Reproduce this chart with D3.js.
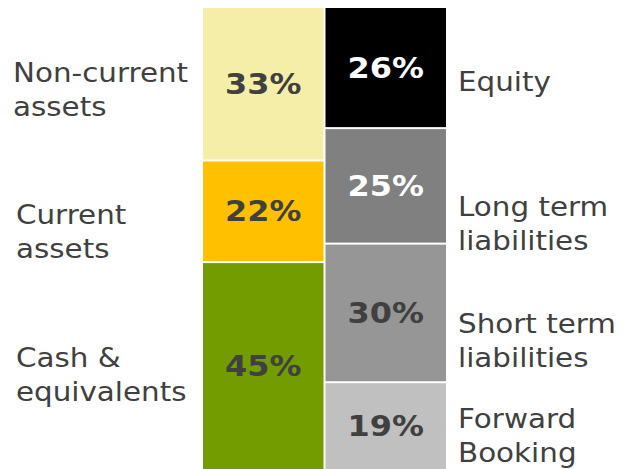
<!DOCTYPE html>
<html>
<head>
<meta charset="utf-8">
<script src="https://cdn.jsdelivr.net/npm/d3@7"></script>
<style>
  html, body { margin: 0; padding: 0; background: #fff; }
  svg { display: block; }
</style>
</head>
<body>
<svg id="chart" width="625" height="469"></svg>
<script>
// Balance sheet structure: assets vs. liabilities & equity (shares in %)
const columns = ["Assets", "Liabilities"];

const assetCategories = ["Non-current assets", "Current assets", "Cash & equivalents"];
const assetValues = [33, 22, 45];

const liabilityCategories = ["Equity", "Long term liabilities", "Short term liabilities", "Forward Booking"];
const liabilityValues = [26, 25, 30, 19];

// Category captions, split over two lines
const assetCaptions = [["Non-current", "assets"], ["Current", "assets"], ["Cash &", "equivalents"]];
const liabilityCaptions = [["Equity"], ["Long term", "liabilities"], ["Short term", "liabilities"], ["Forward", "Booking"]];

// Styling
const assetColors = ["#F5EEA8", "#FFC000", "#739C00"];
const liabilityColors = ["#000000", "#808080", "#969696", "#C0C0C0"];
const assetLabelColors = ["#404040", "#404040", "#404040"];
const liabilityLabelColors = ["#FFFFFF", "#FFFFFF", "#404040", "#404040"];

// Caption baselines (first line) and left edges
const assetCaptionY = [82, 224, 367];
const assetCaptionX = [13, 16, 16];
const liabilityCaptionY = [91, 216, 333, 428];
const liabilityCaptionX = [458, 458, 458, 458];
const lineGap = 34;
const captionStretch = 1.13; // horizontal widening of caption lettering
const valueStretch = 1.1;

const svg = d3.select("#chart");

const x = d3.scaleBand()
  .domain(columns)
  .range([203, 446])
  .paddingInner(0.0163);

const y = d3.scaleLinear()
  .domain([0, 100])
  .range([8, 470]);

function stack(values, categories, colors, labelColors) {
  let acc = 0;
  return values.map((v, i) => {
    const d = { category: categories[i], value: v, y0: acc, y1: acc + v,
                color: colors[i], labelColor: labelColors[i], index: i, last: i === values.length - 1 };
    acc += v;
    return d;
  });
}

const assets = stack(assetValues, assetCategories, assetColors, assetLabelColors);
const liabilities = stack(liabilityValues, liabilityCategories, liabilityColors, liabilityLabelColors);

function drawColumn(data, col) {
  const g = svg.append("g");
  const gap = 1;
  g.selectAll("rect")
    .data(data)
    .join("rect")
    .attr("x", x(col))
    .attr("width", x.bandwidth())
    .attr("y", d => y(d.y0) + (d.index > 0 ? gap : 0))
    .attr("height", d => y(d.y1) - y(d.y0) - (d.index > 0 ? gap : 0) - (d.last ? 0 : gap))
    .attr("fill", d => d.color);

  g.selectAll("g.val")
    .data(data)
    .join("g")
    .attr("class", "val")
    .attr("transform", d => `translate(${x(col) + x.bandwidth() / 2},${(y(d.y0) + y(d.y1)) / 2}) scale(${valueStretch},1)`)
    .append("text")
    .attr("text-anchor", "middle")
    .attr("dominant-baseline", "central")
    .attr("font-family", "'DejaVu Sans', Verdana, sans-serif")
    .attr("font-weight", "bold")
    .attr("font-size", 29)
    .attr("fill", d => d.labelColor)
    .text(d => d.value + "%");
}

drawColumn(assets, "Assets");
drawColumn(liabilities, "Liabilities");

function drawCaptions(captions, ys, xs) {
  svg.append("g")
    .selectAll("g")
    .data(captions)
    .join("g")
    .attr("transform", (d, i) => `translate(${xs[i]},${ys[i]}) scale(${captionStretch},1)`)
    .each(function (lines) {
      const t = d3.select(this).append("text")
        .attr("font-family", "'DejaVu Sans', Verdana, sans-serif")
        .attr("font-size", 26)
        .attr("fill", "#404040");
      lines.forEach((line, j) => {
        t.append("tspan").attr("x", 0).attr("y", j * lineGap).text(line);
      });
    });
}

drawCaptions(assetCaptions, assetCaptionY, assetCaptionX);
drawCaptions(liabilityCaptions, liabilityCaptionY, liabilityCaptionX);
</script>
</body>
</html>
